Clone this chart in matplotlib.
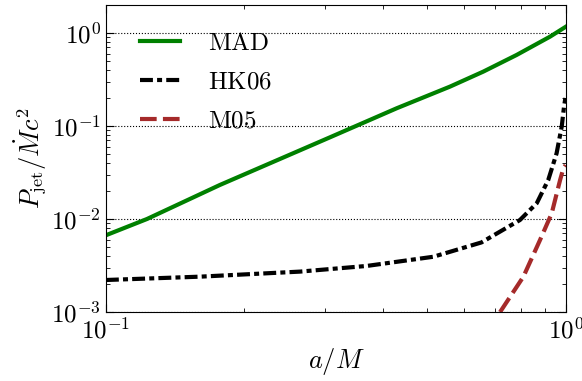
import matplotlib
matplotlib.use('Agg')
import matplotlib.pyplot as plt
from matplotlib.ticker import NullFormatter

plt.rcParams['mathtext.fontset'] = 'cm'
plt.rcParams['font.family'] = 'serif'
plt.rcParams['font.serif'] = ['cmr10', 'DejaVu Serif']
plt.rcParams['axes.formatter.use_mathtext'] = True

# values
mad_a = [0.1003, 0.1228, 0.1768, 0.307, 0.4285, 0.5596, 0.661, 0.781, 0.923, 1.0]
mad_p = [0.00673, 0.01, 0.0232, 0.0756, 0.155, 0.265, 0.384, 0.580, 0.912, 1.17]

hk_a = [0.1, 0.16, 0.264, 0.369, 0.515, 0.655, 0.794, 0.864, 0.915, 0.954, 0.979, 0.990, 0.997]
hk_p = [0.00221, 0.0024, 0.00272, 0.00313, 0.00393, 0.0056, 0.00975, 0.0148, 0.0263, 0.0508, 0.099, 0.16, 0.2]

m05_a = [0.719, 0.808, 0.878, 0.931, 0.971, 0.987, 0.998]
m05_p = [0.001, 0.0024, 0.00594, 0.0115, 0.0263, 0.0351, 0.038]

fig = plt.figure(figsize=(5.82, 3.81), dpi=100)
ax = fig.add_axes([0.182, 0.181, 0.7905, 0.806])

ax.plot(mad_a, mad_p, color='g', lw=3, label=r'$\mathrm{MAD}$')
ax.plot(hk_a, hk_p, color='k', lw=3, ls=(0, (3.1, 1.0, 1.2, 1.0)), label=r'$\mathrm{HK06}$')
ax.plot(m05_a, m05_p, color='brown', lw=3, ls=(0, (4.0, 1.5)), label=r'$\mathrm{M05}$')

ax.set_xscale('log')
ax.set_yscale('log')
ax.set_xlim(0.1, 1.0)
ax.set_ylim(1e-3, 2.0)
ax.xaxis.set_minor_formatter(NullFormatter())
ax.yaxis.set_minor_formatter(NullFormatter())

ax.yaxis.grid(True, which='major', ls=':', color='k', lw=0.8)
ax.tick_params(which='both', direction='in', top=True, right=True, labelsize=18)
ax.tick_params(which='major', length=6)
ax.tick_params(which='minor', length=3)
ax.tick_params(axis='x', pad=4)

ax.set_xlabel(r'$a/M$', fontsize=19, labelpad=2)
ax.set_ylabel(r'$P_{\rm jet}/\dot{M}c^2$', fontsize=19, labelpad=2)

ax.legend(loc='upper left', bbox_to_anchor=(0.015, 1.0), frameon=False, fontsize=18,
          handlelength=1.6, labelspacing=0.65, handletextpad=1.1, borderaxespad=0.7)

fig.savefig('out.png', dpi=100)
